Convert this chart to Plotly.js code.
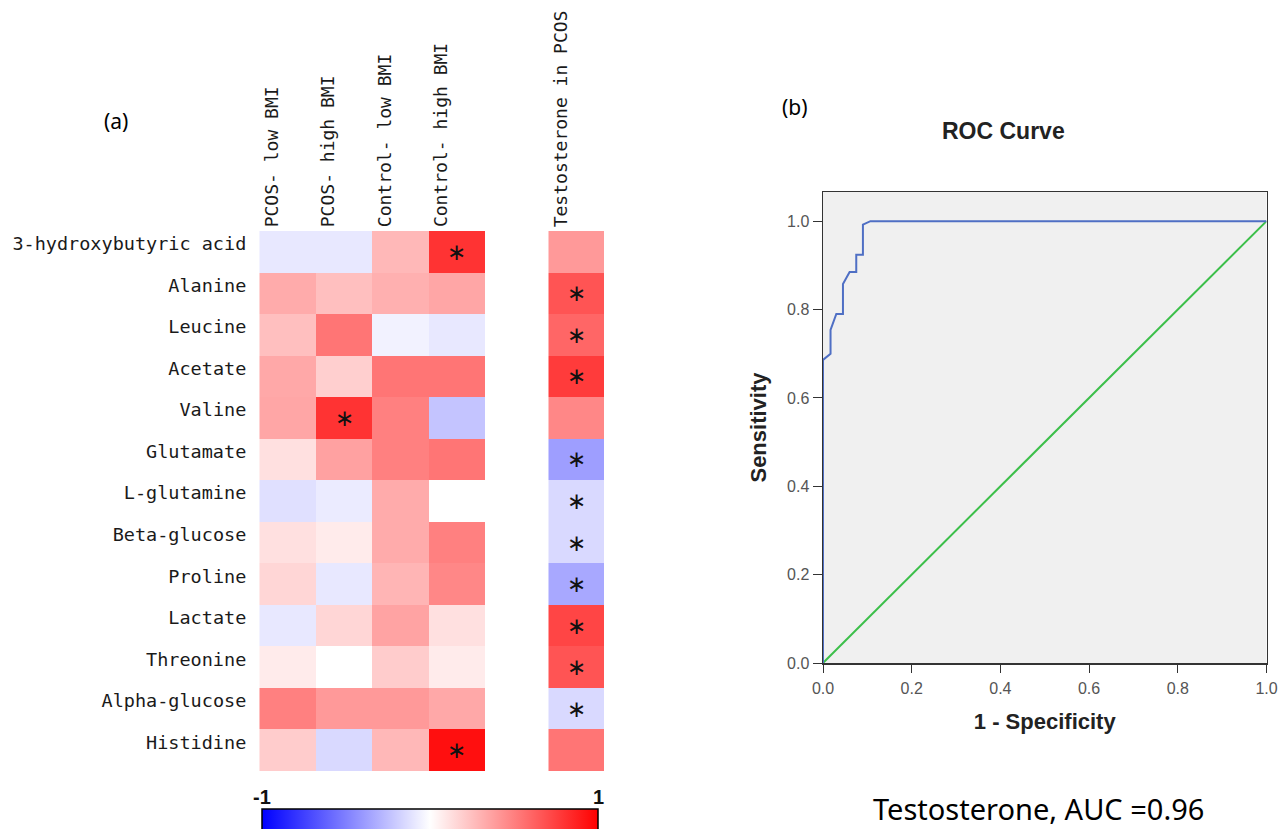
<!DOCTYPE html>
<html>
<head>
<meta charset="utf-8">
<script src="https://cdn.plot.ly/plotly-3.0.1.min.js"></script>
<style>html,body{margin:0;padding:0;background:#fff;}#chart{width:1288px;height:829px;}</style>
</head>
<body>
<div id="chart"></div>
<script>
// ---------- Data: panel (a) correlation heatmap ----------
var metabolites = ["3-hydroxybutyric acid","Alanine","Leucine","Acetate","Valine","Glutamate",
  "L-glutamine","Beta-glucose","Proline","Lactate","Threonine","Alpha-glucose","Histidine"];
var groups = ["PCOS- low BMI","PCOS- high BMI","Control- low BMI","Control- high BMI"];
var testosteroneLabel = ["Testosterone in PCOS"];

// rows = metabolites, columns = groups
var corrGroups = [
  [-0.09, -0.09, 0.28, 0.80],
  [ 0.33,  0.25, 0.31, 0.35],
  [ 0.25,  0.54,-0.05,-0.09],
  [ 0.34,  0.19, 0.54, 0.54],
  [ 0.35,  0.80, 0.50,-0.23],
  [ 0.12,  0.37, 0.50, 0.54],
  [-0.12, -0.08, 0.33, 0.00],
  [ 0.12,  0.08, 0.33, 0.50],
  [ 0.16, -0.09, 0.29, 0.47],
  [-0.09,  0.16, 0.36, 0.12],
  [ 0.08,  0.00, 0.20, 0.08],
  [ 0.50,  0.40, 0.40, 0.34],
  [ 0.20, -0.15, 0.28, 0.94]
];
var corrTestosterone = [0.40, 0.67, 0.60, 0.77, 0.47, -0.38, -0.15, -0.15, -0.34, 0.73, 0.67, -0.15, 0.54];

// significance marks (1 = *)
var sigGroups = [
  [0,0,0,1],[0,0,0,0],[0,0,0,0],[0,0,0,0],[0,1,0,0],[0,0,0,0],[0,0,0,0],
  [0,0,0,0],[0,0,0,0],[0,0,0,0],[0,0,0,0],[0,0,0,0],[0,0,0,1]
];
var sigTestosterone = [0,1,1,1,0,1,1,1,1,1,1,1,0];

// ---------- Data: panel (b) ROC curve ----------
var fpr = [0, 0, 0.017, 0.017, 0.030, 0.045, 0.045, 0.060, 0.075, 0.075, 0.090, 0.090, 0.107, 1.0];
var tpr = [0, 0.686, 0.700, 0.754, 0.790, 0.790, 0.858, 0.885, 0.885, 0.924, 0.924, 0.992, 1.0, 1.0];
var refX = [0, 1];
var refY = [0, 1];
var aucText = "Testosterone, AUC =0.96";

// ---------- Build ----------
var bwr = [[0,'rgb(0,0,255)'],[0.5,'rgb(255,255,255)'],[1,'rgb(255,0,0)']];
var monoFont = {family:'"DejaVu Sans Mono", monospace', size:18.5, color:'#1a1a1a'};
var colFont = {family:'"DejaVu Sans Mono", monospace', size:18, color:'#1a1a1a'};
var STAR = '\u2217';

var textGroups = sigGroups.map(function(r){return r.map(function(s){return s?STAR:'';});});
var zTest = corrTestosterone.map(function(v){return [v];});
var textTest = sigTestosterone.map(function(s){return [s?STAR:''];});

var W = 1288, H = 829;
function px(x){return x/W;}
function py(y){return (H-y)/H;}

var starFont = {size:23, color:'#111', family:'DejaVu Sans'};
var traces = [
  {type:'heatmap', x:groups, y:metabolites, z:corrGroups, text:textGroups,
   texttemplate:'%{text}', textfont:starFont,
   colorscale:bwr, zmin:-1, zmax:1, showscale:false, xaxis:'x', yaxis:'y', hoverinfo:'skip'},
  {type:'heatmap', x:testosteroneLabel, y:metabolites, z:zTest, text:textTest,
   texttemplate:'%{text}', textfont:starFont,
   colorscale:bwr, zmin:-1, zmax:1, showscale:true, xaxis:'x2', yaxis:'y', hoverinfo:'skip',
   colorbar:{orientation:'h', x:px(430), xanchor:'center', y:py(809), yanchor:'top',
     len:px(336), lenmode:'fraction', thickness:26, outlinewidth:1.5, outlinecolor:'#000',
     showticklabels:false, ticks:'', xpad:0, ypad:0}},
  {type:'scatter', mode:'lines', x:refX, y:refY, xaxis:'x3', yaxis:'y2',
   line:{color:'#3cbf4a', width:2}, hoverinfo:'skip'},
  {type:'scatter', mode:'lines', x:fpr, y:tpr, xaxis:'x3', yaxis:'y2',
   line:{color:'#4f6fc4', width:2}, hoverinfo:'skip'}
];

var annotations = [];
groups.forEach(function(g,i){
  annotations.push({xref:'x', yref:'paper', x:i-0.5, y:py(229), xanchor:'left', yanchor:'bottom',
    text:g, textangle:-90, showarrow:false, font:colFont, xshift:0});
});
annotations.push({xref:'x2', yref:'paper', x:-0.5, y:py(229), xanchor:'left', yanchor:'bottom',
  text:testosteroneLabel[0], textangle:-90, showarrow:false, font:colFont, xshift:0});
annotations.push({xref:'paper', yref:'paper', x:px(262), y:py(797), xanchor:'center', yanchor:'middle',
  text:'<b>-1</b>', showarrow:false, font:{family:'Liberation Sans, Arial', size:20, color:'#111'}});
annotations.push({xref:'paper', yref:'paper', x:px(598), y:py(797), xanchor:'center', yanchor:'middle',
  text:'<b>1</b>', showarrow:false, font:{family:'Liberation Sans, Arial', size:20, color:'#111'}});
annotations.push({xref:'paper', yref:'paper', x:px(116), y:py(121), xanchor:'center', yanchor:'middle',
  text:'(a)', showarrow:false, font:{family:'Noto Sans, Open Sans', size:21, color:'#000'}});
annotations.push({xref:'paper', yref:'paper', x:px(795), y:py(107), xanchor:'center', yanchor:'middle',
  text:'(b)', showarrow:false, font:{family:'Noto Sans, Open Sans', size:21, color:'#000'}});
annotations.push({xref:'paper', yref:'paper', x:px(1003), y:py(131), xanchor:'center', yanchor:'middle',
  text:'<b>ROC Curve</b>', showarrow:false, font:{family:'Liberation Sans, Arial', size:23, color:'#222'}});
annotations.push({xref:'paper', yref:'paper', x:px(1038), y:py(808), xanchor:'center', yanchor:'middle',
  text:aucText, showarrow:false, font:{family:'Noto Sans, Open Sans', size:29, color:'#000'}});

var rocTick = {family:'Liberation Sans, Arial', size:16, color:'#555'};
var layout = {
  width:W, height:H, margin:{l:0,r:0,t:0,b:0,autoexpand:false}, paper_bgcolor:'#fff', plot_bgcolor:'#fff',
  showlegend:false,
  xaxis:{domain:[px(259.3), px(485)], anchor:'y', showticklabels:false, ticks:'', showgrid:false, zeroline:false, showline:false, fixedrange:true},
  xaxis2:{domain:[px(548.3), px(604)], anchor:'y', showticklabels:false, ticks:'', showgrid:false, zeroline:false, showline:false, fixedrange:true},
  yaxis:{domain:[py(771), py(231)], anchor:'x', autorange:'reversed', tickfont:monoFont, ticks:'',
    ticklabelstandoff:12, ticklabelshift:8, showgrid:false, zeroline:false, showline:false, fixedrange:true},
  xaxis3:{domain:[px(823), px(1266.5)], anchor:'y2', range:[0,1], tickvals:[0,0.2,0.4,0.6,0.8,1.0],
    tickformat:'.1f', ticks:'outside', ticklen:8, tickcolor:'#333', tickfont:rocTick, ticklabelstandoff:2,
    showline:true, linecolor:'#333', linewidth:1.5, mirror:true, showgrid:false, zeroline:false,
    title:{text:'<b>1 - Specificity</b>', font:{family:'Liberation Sans, Arial', size:22, color:'#222'}, standoff:18}},
  yaxis2:{domain:[py(663), py(192)], anchor:'x3', range:[0,1.066], tickvals:[0,0.2,0.4,0.6,0.8,1.0],
    tickformat:'.1f', ticks:'outside', ticklen:9, tickcolor:'#333', tickfont:rocTick, ticklabelstandoff:0,
    showline:true, linecolor:'#333', linewidth:1.5, mirror:true, showgrid:false, zeroline:false,
    title:{text:'<b>Sensitivity</b>', font:{family:'Liberation Sans, Arial', size:22, color:'#222'}, standoff:14}},
  shapes:[{type:'rect', xref:'x3 domain', yref:'y2 domain', x0:0, x1:1, y0:0, y1:1,
    fillcolor:'#f0f0f0', line:{width:0}, layer:'below'}],
  annotations:annotations
};

Plotly.newPlot('chart', traces, layout, {staticPlot:true, displayModeBar:false});
</script>
</body>
</html>
